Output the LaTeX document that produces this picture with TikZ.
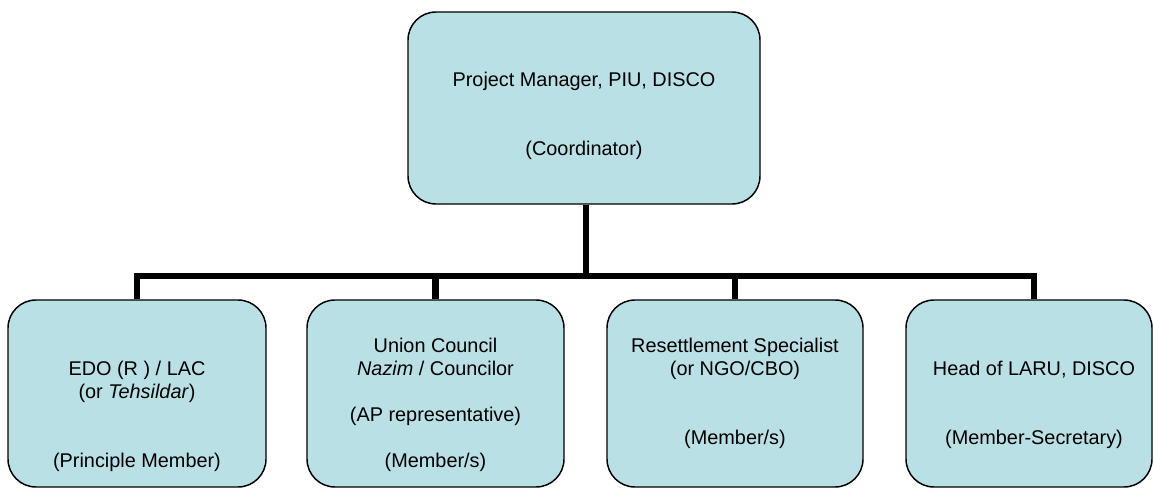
\documentclass[tikz,border=0pt]{standalone}
\usepackage{fontspec}
\setmainfont{Liberation Sans}
\usetikzlibrary{backgrounds}
\definecolor{boxfill}{RGB}{185,224,228}
\begin{document}
\begin{tikzpicture}[x=0.75pt,y=-0.75pt,
  box/.style={draw=black, line width=1.1pt, fill=boxfill, rounded corners=21pt, inner sep=0pt},
  txt/.style={anchor=base, inner sep=0pt, font=\fontsize{14.9}{17.25}\selectfont},
  conn/.style={draw=black, line width=4.6pt, line join=miter}]
\useasboundingbox (0,0) rectangle (1153,488);
% boxes
\node[box, minimum width=264pt, minimum height=144pt] (pm) at (584,108) {};
\node[box, minimum width=193.5pt, minimum height=140.25pt] (edo) at (137,393.5) {};
\node[box, minimum width=192.75pt, minimum height=140.25pt] (uc) at (435.5,393.5) {};
\node[box, minimum width=192pt, minimum height=140.25pt] (rs) at (735,393.5) {};
\node[box, minimum width=184.5pt, minimum height=140.25pt] (hl) at (1029,393.5) {};
% texts
\node[txt] (pm1) at (584,87) {Project Manager, PIU, DISCO};
\node[txt] (pm2) at (584,156) {(Coordinator)};
\node[txt] (edo1) at (137,375) {EDO (R ) / LAC};
\node[txt] (edo2) at (137,398) {(or \textit{Tehsildar})};
\node[txt] (edo3) at (137,467) {(Principle Member)};
\node[txt] (uc1) at (435.5,352) {Union Council};
\node[txt] (uc2) at (435.5,375) {\textit{Nazim} / Councilor};
\node[txt] (uc3) at (435.5,421) {(AP representative)};
\node[txt] (uc4) at (435.5,467) {(Member/s)};
\node[txt] (rs1) at (735,352) {Resettlement Specialist};
\node[txt] (rs2) at (735,375) {(or NGO/CBO)};
\node[txt] (rs3) at (735,444) {(Member/s)};
\node[txt] (hl1) at (1034,375) {Head of LARU, DISCO};
\node[txt] (hl2) at (1034,444) {(Member-Secretary)};
% connectors
\coordinate (hub) at (586,276);
\coordinate (jl) at (137,276);
\coordinate (jr) at (1034,276);
\begin{scope}[on background layer]
\draw[conn] (pm.south -| hub) -- (hub);
\draw[conn] (edo.north) -- (jl) -- (jr) -- (jr |- hl.north);
\draw[conn] (uc.north |- jl) -- (uc.north);
\draw[conn] (rs.north |- jl) -- (rs.north);
\end{scope}
\end{tikzpicture}
\end{document}
